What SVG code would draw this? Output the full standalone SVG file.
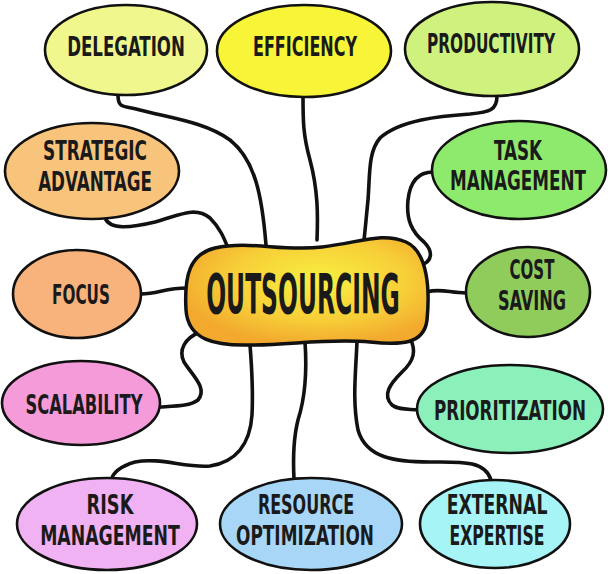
<svg xmlns="http://www.w3.org/2000/svg" width="608" height="574" viewBox="0 0 608 574">
<defs>
<radialGradient id="og" cx="0.55" cy="0.4" r="0.6">
<stop offset="0" stop-color="#f8f040"/>
<stop offset="0.6" stop-color="#f7cf38"/>
<stop offset="1" stop-color="#f2a92e"/>
</radialGradient>
<style>
.n{stroke:#111;stroke-width:2.6}
.c{fill:none;stroke:#111;stroke-width:3.6;stroke-linecap:round;stroke-linejoin:round}
.t{font-family:"DejaVu Sans Condensed","DejaVu Sans",sans-serif;font-weight:bold;font-size:26px;fill:#1a1a1a;text-anchor:middle}
.big{font-size:56px}
</style>
</defs>
<rect width="608" height="574" fill="#fff"/>
<g id="connectors">
<path class="c" d="M118,95 C118,110 125,105 140,110 C170,118 205,122 230,140 C255,160 262,195 266,245"/>
<path class="c" d="M303,96 C303,120 303,135 310,160 C318,190 318,215 317,240"/>
<path class="c" d="M497,96 C497,110 490,112 470,114 C440,116 400,120 380,138 C368,152 370,175 368,200 C366,220 365,232 364,240"/>
<path class="c" d="M105,218 C110,230 130,228 155,222 C180,215 195,206 210,218 C220,228 224,238 228,248"/>
<path class="c" d="M433,172 C418,172 410,182 408,200 C406,220 412,232 424,242 C432,250 435,262 418,266"/>
<path class="c" d="M141,294 C158,294 165,288 187,288"/>
<path class="c" d="M466,293 C450,293 440,288 427,292"/>
<path class="c" d="M200,332 C185,338 178,350 184,362 C192,375 208,388 198,400 C190,406 178,406 160,407"/>
<path class="c" d="M250,345 C252,370 253,395 252,415 C250,445 235,462 210,466 C185,468 160,457 135,462 C118,467 112,475 111,481"/>
<path class="c" d="M305,342 C307,370 306,395 298,420 C293,440 293,460 294,479"/>
<path class="c" d="M357,341 C356,370 352,400 358,430 C366,458 395,462 430,462 C460,462 485,460 491,480"/>
<path class="c" d="M410,338 C416,350 415,360 402,372 C390,384 382,395 392,405 C398,410 408,409 418,410"/>
</g>
<g id="outsourcing">
<path d="M215,248 C250,240 282,252 322,247 C362,242 382,232 406,242 C428,252 430,290 427,320 C424,345 400,345 370,342 C330,338 290,345 250,345 C215,346 188,340 186,310 C184,275 190,254 215,248 Z" fill="url(#og)" stroke="#111" stroke-width="3.5"/>
<text class="t big" transform="translate(303,313) scale(0.65,1)" textLength="298" lengthAdjust="spacingAndGlyphs">OUTSOURCING</text>
</g>
<g id="delegation"><ellipse class="n" cx="126" cy="50" rx="81" ry="45" fill="#f0f78c"/><text class="t" transform="translate(126,56) scale(0.65,1)" textLength="181" lengthAdjust="spacingAndGlyphs">DELEGATION</text></g>
<g id="efficiency"><ellipse class="n" cx="304" cy="51" rx="87" ry="46" fill="#f8f538"/><text class="t" transform="translate(305,56) scale(0.65,1)" textLength="160" lengthAdjust="spacingAndGlyphs">EFFICIENCY</text></g>
<g id="productivity"><ellipse class="n" cx="492" cy="49" rx="87" ry="47" fill="#cff27e"/><text class="t" transform="translate(491,53) scale(0.65,1)" textLength="197" lengthAdjust="spacingAndGlyphs">PRODUCTIVITY</text></g>
<g id="strategic"><ellipse class="n" cx="92" cy="171" rx="87" ry="48" fill="#f8c47c"/><text class="t" transform="translate(95,160) scale(0.65,1)" textLength="160" lengthAdjust="spacingAndGlyphs">STRATEGIC</text><text class="t" transform="translate(95,191) scale(0.65,1)" textLength="175" lengthAdjust="spacingAndGlyphs">ADVANTAGE</text></g>
<g id="task"><ellipse class="n" cx="519" cy="170" rx="87" ry="49" fill="#8eea6c"/><text class="t" transform="translate(518,160) scale(0.65,1)" textLength="74" lengthAdjust="spacingAndGlyphs">TASK</text><text class="t" transform="translate(518,190) scale(0.65,1)" textLength="209" lengthAdjust="spacingAndGlyphs">MANAGEMENT</text></g>
<g id="focus"><ellipse class="n" cx="77" cy="294" rx="64" ry="44" fill="#f8b27c"/><text class="t" transform="translate(81,304) scale(0.65,1)" textLength="89" lengthAdjust="spacingAndGlyphs">FOCUS</text></g>
<g id="cost"><ellipse class="n" cx="528" cy="292" rx="62" ry="45" fill="#90cc5c"/><text class="t" transform="translate(532,279) scale(0.65,1)" textLength="69" lengthAdjust="spacingAndGlyphs">COST</text><text class="t" transform="translate(532,310) scale(0.65,1)" textLength="105" lengthAdjust="spacingAndGlyphs">SAVING</text></g>
<g id="scalability"><ellipse class="n" cx="81" cy="403" rx="79" ry="42" fill="#f59bd9"/><text class="t" transform="translate(84,414) scale(0.65,1)" textLength="180" lengthAdjust="spacingAndGlyphs">SCALABILITY</text></g>
<g id="prioritization"><ellipse class="n" cx="510" cy="409" rx="93" ry="44" fill="#8bf0ba"/><text class="t" transform="translate(510,420) scale(0.65,1)" textLength="234" lengthAdjust="spacingAndGlyphs">PRIORITIZATION</text></g>
<g id="risk"><ellipse class="n" cx="107" cy="524" rx="90" ry="46" fill="#f0b2f2"/><text class="t" transform="translate(110,514) scale(0.65,1)" textLength="72" lengthAdjust="spacingAndGlyphs">RISK</text><text class="t" transform="translate(110,545) scale(0.65,1)" textLength="215" lengthAdjust="spacingAndGlyphs">MANAGEMENT</text></g>
<g id="resource"><ellipse class="n" cx="311" cy="524" rx="91" ry="46" fill="#a8d6f6"/><text class="t" transform="translate(306,514) scale(0.65,1)" textLength="148" lengthAdjust="spacingAndGlyphs">RESOURCE</text><text class="t" transform="translate(305,545) scale(0.65,1)" textLength="212" lengthAdjust="spacingAndGlyphs">OPTIMIZATION</text></g>
<g id="external"><ellipse class="n" cx="495" cy="524" rx="75" ry="44" fill="#a6f4f6"/><text class="t" transform="translate(497,514) scale(0.65,1)" textLength="155" lengthAdjust="spacingAndGlyphs">EXTERNAL</text><text class="t" transform="translate(497,545) scale(0.65,1)" textLength="146" lengthAdjust="spacingAndGlyphs">EXPERTISE</text></g>
</svg>
